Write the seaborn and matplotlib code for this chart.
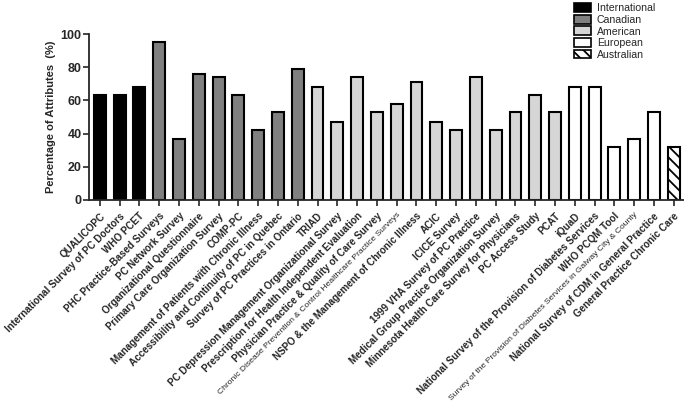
import matplotlib
matplotlib.use("Agg")
import matplotlib.pyplot as plt
import seaborn as sns
import pandas as pd
from matplotlib.patches import Patch

surveys = [
    "QUALICOPC", "International Survey of PC Doctors", "WHO PCET",
    "PHC Practice-Based Surveys", "PC Network Survey", "Organizational Questionnaire",
    "Primary Care Organization Survey", "COMP-PC",
    "Management of Patients with Chronic Illness",
    "Accessibility and Continuity of PC in Quebec", "Survey of PC Practices in Ontario",
    "TRIAD", "PC Depression Management Organizational Survey",
    "Prescription for Health Independent Evaluation",
    "Physician Practice & Quality of Care Survey",
    "Chronic Disease Prevention & Control Healthcare Practice Surveys",
    "NSPO & the Management of Chronic Illness", "ACIC", "ICICE Survey",
    "1999 VHA Survey of PC Practice", "Medical Group Practice Organization Survey",
    "Minnesota Health Care Survey for Physicians", "PC Access Study", "PCAT",
    "iQuaD", "National Survey of the Provision of Diabetes Services", "WHO PCQM Tool",
    "Survey of the Provision of Diabetes Services in Galway City & County",
    "National Survey of CDM in General Practice", "General Practice Chronic Care",
]
percent = [63, 63, 68, 95, 37, 76, 74, 63, 42, 53, 79,
           68, 47, 74, 53, 58, 71, 47, 42, 74, 42, 53, 63, 53,
           68, 68, 32, 37, 53, 32]
origin = (["International"] * 3 + ["Canadian"] * 8 + ["American"] * 13
          + ["European"] * 5 + ["Australian"])
regions = ["International", "Canadian", "American", "European", "Australian"]
colors = ["#000000", "#808080", "#d6d6d6", "#ffffff", "#ffffff"]
small_labels = {"Chronic Disease Prevention & Control Healthcare Practice Surveys",
                "Survey of the Provision of Diabetes Services in Galway City & County"}

df = pd.DataFrame({"survey": surveys, "pct": percent, "origin": origin})

sns.set_style("ticks")
plt.rcParams["font.family"] = ["Liberation Sans", "DejaVu Sans"]
plt.rcParams["hatch.linewidth"] = 1.3

fig = plt.figure(figsize=(6.84, 4.12), dpi=100)
ax = fig.add_axes([0.130, 0.515, 0.871, 0.402])

sns.barplot(data=df, x="survey", y="pct", hue="origin", hue_order=regions,
            palette=dict(zip(regions, colors)), dodge=False, width=0.6,
            edgecolor="black", linewidth=1.5, legend=False, ax=ax)

for patch in ax.patches:
    x = patch.get_x() + patch.get_width() / 2
    if patch.get_height() > 0 and abs(x - (len(surveys) - 1)) < 0.3:
        patch.set_hatch("\\\\\\")

ax.set_xlim(-0.55, len(surveys) - 0.45)
ax.set_ylim(0, 100)
ax.set_yticks([0, 20, 40, 60, 80, 100])
ax.set_yticklabels(["0", "20", "40", "60", "80", "100"], fontsize=9, fontweight="bold")
ax.set_xlabel("")
ax.set_ylabel("Percentage of Attributes  (%)", fontsize=8, fontweight="bold", labelpad=3)
ax.set_xticks(range(len(surveys)))
ax.set_xticklabels(surveys, rotation=45, ha="right", rotation_mode="anchor")
for lbl in ax.get_xticklabels():
    if lbl.get_text() in small_labels:
        lbl.set_fontsize(6.1)
        lbl.set_fontweight("normal")
    else:
        lbl.set_fontsize(7.1)
        lbl.set_fontweight("bold")
ax.tick_params(axis="x", length=4, width=1.2, pad=4)
ax.tick_params(axis="y", length=4.3, width=1.2, pad=1)
for s in ["left", "bottom"]:
    ax.spines[s].set_linewidth(1.3)
sns.despine(ax=ax)

handles = [Patch(facecolor=c, edgecolor="black", linewidth=1.2,
                 hatch="\\\\\\" if r == "Australian" else None)
           for r, c in zip(regions, colors)]
fig.legend(handles, regions, loc="upper left", bbox_to_anchor=(0.828, 1.01),
           frameon=False, fontsize=7.6, handlelength=1.6, handleheight=0.9,
           labelspacing=0.15, handletextpad=0.6, borderpad=0.2)

fig.savefig("out.png", dpi=100)
